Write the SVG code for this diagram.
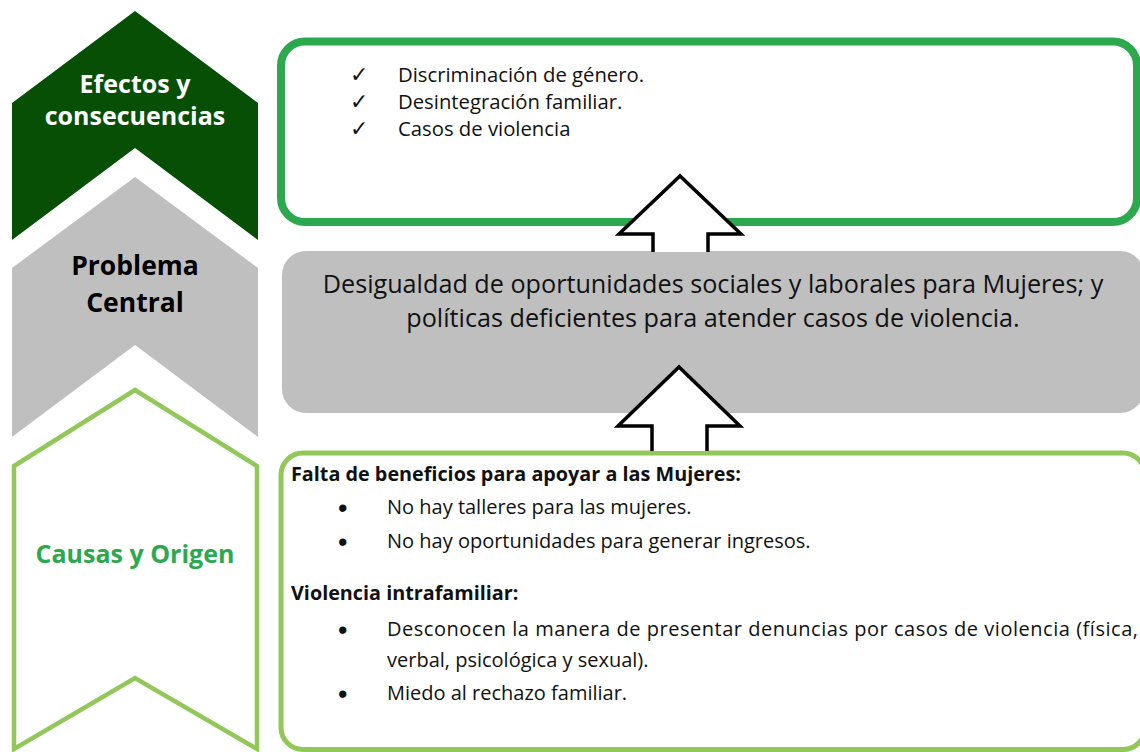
<svg xmlns="http://www.w3.org/2000/svg" width="1140" height="752" viewBox="0 0 1140 752">
<style>
.t{font-family:"Open Sans","Liberation Sans",sans-serif;fill:#111;}
.b{font-weight:bold;}
.bul{font-family:"Liberation Sans",sans-serif;font-size:27px;fill:#111;}
.chk{font-family:"DejaVu Sans",sans-serif;font-size:22px;fill:#111;}
.lbl{font-family:"Open Sans","Liberation Sans",sans-serif;font-weight:bold;text-anchor:middle;}
.arrow{fill:#fff;stroke:#000;stroke-width:3.5;stroke-linejoin:miter;}
</style>
<rect width="1140" height="752" fill="#fff"/>
<g id="chevron-efectos">
<polygon points="12,103 135,11 258,103 258,240 135,148 12,240" fill="#064f05"/>
<text class="lbl" x="135" y="93" font-size="25" fill="#fff">Efectos y</text>
<text class="lbl" x="135" y="125" font-size="25" fill="#fff">consecuencias</text>
</g>
<g id="chevron-problema">
<polygon points="12,268 135,177 258,268 258,437 135,345 12,437" fill="#bfbfbf"/>
<text class="lbl" x="135" y="275" font-size="26.5" fill="#000">Problema</text>
<text class="lbl" x="135" y="312" font-size="26.5" fill="#000">Central</text>
</g>
<g id="chevron-causas">
<polygon points="14,466 135,390 257,466 257,749 135,678 14,749" fill="#fff" stroke="#92c85a" stroke-width="4.5"/>
<text class="lbl" x="135" y="563" font-size="25" fill="#2ca84e">Causas y Origen</text>
</g>
<g id="box-efectos">
<rect x="281" y="41.5" width="856" height="180.5" rx="24" fill="#fff" stroke="#2ca84e" stroke-width="8"/>
<text class="chk" x="350" y="82">✓</text>
<text class="chk" x="350" y="109">✓</text>
<text class="chk" x="350" y="136">✓</text>
<text class="t" x="398" y="82" font-size="20.3">Discriminación de género.</text>
<text class="t" x="398" y="109" font-size="20.3">Desintegración familiar.</text>
<text class="t" x="398" y="136" font-size="20.3">Casos de violencia</text>
</g>
<g id="box-problema">
<rect x="282" y="251" width="862" height="162" rx="24" fill="#bfbfbf"/>
<text class="t" x="713" y="293" font-size="25.2" text-anchor="middle">Desigualdad de oportunidades sociales y laborales para Mujeres; y</text>
<text class="t" x="713" y="327" font-size="25.2" text-anchor="middle">políticas deficientes para atender casos de violencia.</text>
</g>
<g id="box-causas">
<rect x="281" y="453" width="864" height="296.5" rx="22" fill="#fff" stroke="#92c85a" stroke-width="5"/>
<text class="t b" x="291" y="481" font-size="19.8">Falta de beneficios para apoyar a las Mujeres:</text>
<text class="bul" x="338" y="517">•</text>
<text class="t" x="387" y="514" font-size="20">No hay talleres para las mujeres.</text>
<text class="bul" x="338" y="551">•</text>
<text class="t" x="387" y="548" font-size="20">No hay oportunidades para generar ingresos.</text>
<text class="t b" x="291" y="600" font-size="19.8">Violencia intrafamiliar:</text>
<text class="bul" x="338" y="639">•</text>
<text class="t" x="387" y="636" font-size="20" textLength="751" lengthAdjust="spacing">Desconocen la manera de presentar denuncias por casos de violencia (física,</text>
<text class="t" x="387" y="667" font-size="20">verbal, psicológica y sexual).</text>
<text class="bul" x="338" y="703">•</text>
<text class="t" x="387" y="700" font-size="20">Miedo al rechazo familiar.</text>
</g>
<g id="connectors">
<path class="arrow" d="M653,252 V234 H619 L680,176 L741,234 H708 V252"/>
<path class="arrow" d="M652,451 V426 H618 L679,367 L740,426 H707 V451"/>
</g>
</svg>
